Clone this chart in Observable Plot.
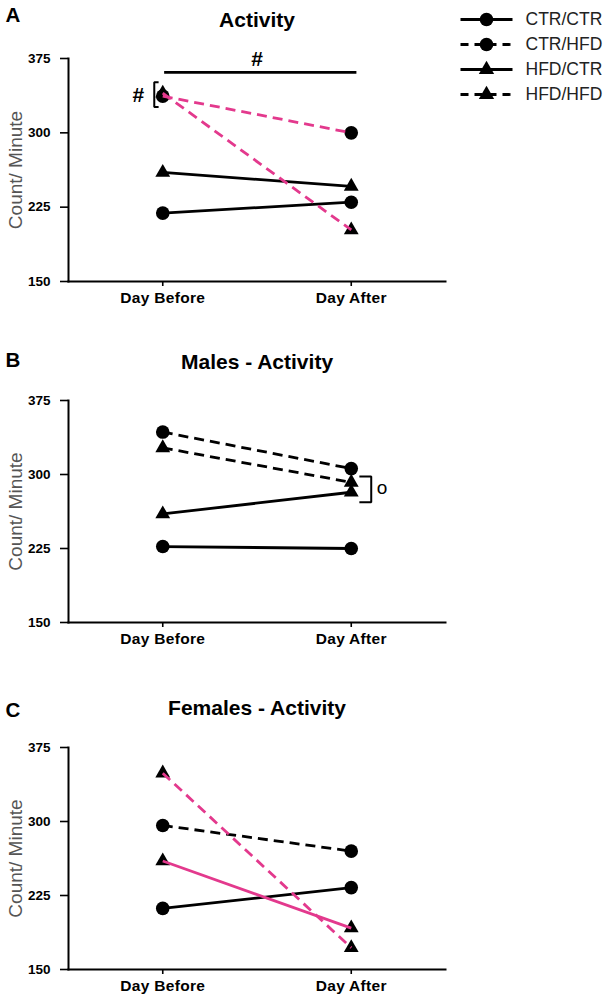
<!DOCTYPE html>
<html><head><meta charset="utf-8">
<script src="https://cdn.jsdelivr.net/npm/d3@7"></script>
<script src="https://cdn.jsdelivr.net/npm/@observablehq/plot@0.6"></script>
<style>
body{margin:0;background:#fff;}
#fig{position:relative;width:609px;height:1003px;background:#fff;overflow:hidden;}
.panel{position:absolute;left:0;}
g[aria-label="title"] text{letter-spacing:1.1px;}
g[aria-label="x-axis tick label"] text{letter-spacing:0.3px;}
</style></head><body><div id="fig"></div>
<script>
// ---- data ----
const days = ["Day Before", "Day After"];
const groups = ["CTR/CTR", "CTR/HFD", "HFD/CTR", "HFD/HFD"];
const allBefore = [219, 337, 260, 340];
const allAfter = [230, 300, 246, 202];
const malesBefore = [227, 343, 260, 327];
const malesAfter = [225, 306, 282, 292];
const femalesBefore = [212, 296, 260, 349];
const femalesAfter = [233, 270, 192, 172];
const panelTitles = ["Activity", "Males - Activity", "Females - Activity"];
const panelLetters = ["A", "B", "C"];
const yTicks = [150, 225, 300, 375];
const yLabel = "Count/ Minute";
// annotations (data units)
const hashBarA = [{x1: 0.01, x2: 1.03, y: 361}];
const hashTopA = [{x: 0.5, y: 374, label: "#"}];
const bracketA = [{x: -0.022, y: 351}, {x: -0.045, y: 351}, {x: -0.045, y: 326}, {x: -0.022, y: 326}];
const hashSideA = [{x: -0.13, y: 338, label: "#"}];
const bracketB = [{x: 1.043, y: 298}, {x: 1.106, y: 298}, {x: 1.106, y: 272}, {x: 1.043, y: 272}];
const ringB = [{x: 1.163, y: 286, label: "o"}];

// ---- styling ----
const PINK = "#e3398d";
const FONT = "'Liberation Sans', Arial, Helvetica, sans-serif";
const dashedGroups = ["CTR/HFD", "HFD/HFD"];
const circleGroups = ["CTR/CTR", "CTR/HFD"];

function panel(cfg) {
  const rows = groups.flatMap((g, i) => [
    {group: g, day: 0, value: cfg.before[i]},
    {group: g, day: 1, value: cfg.after[i]}
  ]);
  const circles = rows.filter(d => circleGroups.includes(d.group));
  const tris = rows.filter(d => !circleGroups.includes(d.group));
  const lines = groups.map(g => Plot.line(rows.filter(d => d.group === g), {
    x: "day", y: "value",
    stroke: cfg.pink.includes(g) ? PINK : "black",
    strokeWidth: 2.8,
    strokeLinecap: "butt",
    strokeDasharray: dashedGroups.includes(g) ? "10,6" : undefined
  }));
  return Plot.plot({
    width: 609, height: cfg.height,
    marginTop: cfg.mt, marginBottom: cfg.mb, marginLeft: 68, marginRight: 164,
    x: {domain: [-0.5, 1.5]},
    y: {domain: [150, 375]},
    style: {fontFamily: FONT, background: "white", overflow: "visible", color: "black"},
    marks: [
      Plot.axisY({ticks: yTicks, tickSize: 8, tickPadding: 10, fontSize: 13.5, fontWeight: "bold", label: null, strokeWidth: 1.6}),
      Plot.axisX({ticks: [0, 1], tickFormat: i => days[i], tickSize: 5, tickPadding: 5, fontSize: 15.5, fontWeight: "bold", label: null, strokeWidth: 1.6}),
      Plot.frame({anchor: "left", strokeWidth: 2}),
      Plot.frame({anchor: "bottom", strokeWidth: 2}),
      Plot.text([yLabel], {text: d => d, frameAnchor: "left", dx: -53, rotate: -90, textAnchor: "middle", lineAnchor: "middle", fontSize: 19, fill: "#555"}),
      Plot.text([cfg.title], {text: d => d, frameAnchor: "top", dy: cfg.titleDy, lineAnchor: "middle", fontSize: 21, fontWeight: "bold", ariaLabel: "title"}),
      Plot.text([cfg.letter], {text: d => d, frameAnchor: "top-left", dx: -63, dy: cfg.letterDy, textAnchor: "start", lineAnchor: "middle", fontSize: 20.5, fontWeight: "bold"}),
      Plot.dot(circles, {x: "day", y: "value", r: 6.8, fill: "black", stroke: "none"}),
      Plot.dot(tris, {x: "day", y: "value", symbol: "triangle", r: 5.5, fill: "black", stroke: "none"}),
      ...lines,
      ...(cfg.extra || [])
    ]
  });
}

const configs = [
  {top: 0, height: 320, mt: 58, mb: 39, titleDy: -38, letterDy: -43, before: allBefore, after: allAfter,
   pink: ["CTR/HFD", "HFD/HFD"],
   extra: [
     Plot.ruleY(hashBarA, {y: "y", x1: "x1", x2: "x2", strokeWidth: 2.8}),
     Plot.text(hashTopA, {x: "x", y: "y", text: "label", fontSize: 21, fontWeight: "bold", lineAnchor: "middle"}),
     Plot.line(bracketA, {x: "x", y: "y", strokeWidth: 2, strokeLinecap: "butt", strokeLinejoin: "miter"}),
     Plot.text(hashSideA, {x: "x", y: "y", text: "label", fontSize: 21, fontWeight: "bold", lineAnchor: "middle"})
   ]},
  {top: 330, height: 330, mt: 70, mb: 38, titleDy: -38, letterDy: -40, before: malesBefore, after: malesAfter,
   pink: [],
   extra: [
     Plot.line(bracketB, {x: "x", y: "y", strokeWidth: 2, strokeLinecap: "butt", strokeLinejoin: "miter"}),
     Plot.text(ringB, {x: "x", y: "y", text: "label", fontSize: 19, lineAnchor: "middle", textAnchor: "middle"})
   ]},
  {top: 660, height: 343, mt: 87, mb: 34, titleDy: -39, letterDy: -37, before: femalesBefore, after: femalesAfter,
   pink: ["HFD/CTR", "HFD/HFD"], extra: []}
];

const fig = document.getElementById("fig");
configs.forEach((c, i) => {
  const el = panel({...c, title: panelTitles[i], letter: panelLetters[i]});
  const wrap = document.createElement("div");
  wrap.className = "panel";
  wrap.style.top = c.top + "px";
  wrap.appendChild(el);
  fig.appendChild(wrap);
});

// legend
const legend = Plot.plot({
  width: 169, height: 110,
  marginLeft: 20, marginRight: 97, marginTop: 18, marginBottom: 15,
  x: {domain: [0, 1], axis: null},
  y: {type: "point", domain: groups, padding: 0, axis: null},
  style: {fontFamily: FONT, background: "transparent", overflow: "visible"},
  marks: [
    ...groups.map(g => Plot.line([{g, x: 0}, {g, x: 1}], {
      x: "x", y: "g", strokeWidth: 2.8, strokeLinecap: "butt",
      strokeDasharray: dashedGroups.includes(g) ? "8,6" : undefined
    })),
    Plot.dot(groups.filter(g => circleGroups.includes(g)), {x: 0.5, y: d => d, r: 6.8, fill: "black", stroke: "none"}),
    Plot.dot(groups.filter(g => !circleGroups.includes(g)), {x: 0.5, y: d => d, symbol: "triangle", r: 5.7, fill: "black", stroke: "none"}),
    Plot.text(groups, {x: 1, y: d => d, text: d => d, dx: 13, textAnchor: "start", lineAnchor: "middle", fontSize: 17.5, fill: "#222"})
  ]
});
const lw = document.createElement("div");
lw.className = "panel";
lw.style.left = "440px";
lw.style.top = "0px";
lw.appendChild(legend);
fig.appendChild(lw);
</script>
</body></html>
